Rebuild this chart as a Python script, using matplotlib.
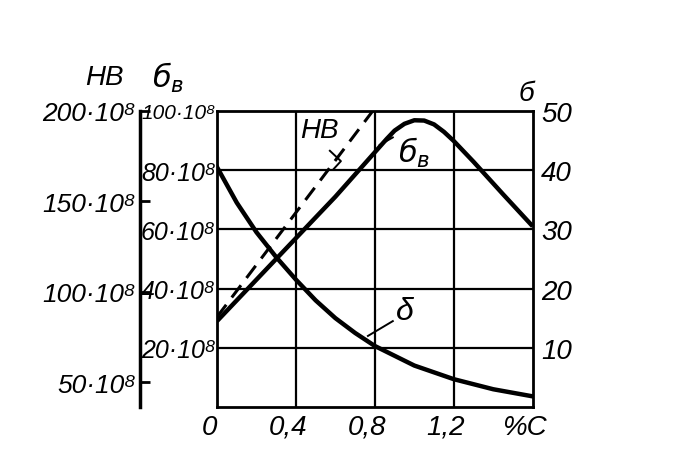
import matplotlib
matplotlib.use("Agg")
import matplotlib.pyplot as plt
from matplotlib.transforms import ScaledTranslation

FONT = ['Liberation Sans', 'DejaVu Sans']
plt.rcParams['font.family'] = FONT
plt.rcParams['font.style'] = 'italic'
plt.rcParams['mathtext.fontset'] = 'dejavusans'

# %C
carbon = [0.0, 0.2, 0.4, 0.6, 0.8, 0.86, 0.9, 0.95, 1.0, 1.05, 1.1, 1.15, 1.2, 1.3, 1.45, 1.6]
# tensile strength sigma_b, x10^8
sigma_b = [29, 43, 57, 71, 86, 90.5, 93.3, 95.6, 96.8, 96.7, 95.4, 92.9, 89.8, 82.8, 71.8, 61]

carbon_d = [0.0, 0.1, 0.2, 0.3, 0.4, 0.5, 0.6, 0.7, 0.8, 1.0, 1.2, 1.4, 1.6]
# elongation delta, %
delta = [40.5, 34.5, 29.5, 25.3, 21.5, 18.0, 15.0, 12.5, 10.3, 7.0, 4.7, 3.0, 1.8]

# hardness HB, x10^8 (dashed)
carbon_hb = [0.0, 0.79]
hb = [86, 200]

x_ticks = [0, 0.4, 0.8, 1.2, 1.6]
x_labels = ['0', '0,4', '0,8', '1,2', '%C']
sb_ticks = [20, 40, 60, 80, 100]
sb_labels = ['20·10⁸', '40·10⁸', '60·10⁸', '80·10⁸', '100·10⁸']
d_ticks = [10, 20, 30, 40, 50]
hb_ticks = [50, 100, 150, 200]
hb_labels = ['50·10⁸', '100·10⁸', '150·10⁸', '200·10⁸']

fig = plt.figure(figsize=(7, 4.6), dpi=100)
ax = fig.add_axes([0.31, 0.113, 0.451, 0.644])
ax.set_xlim(0, 1.6)
ax.set_ylim(0, 100)
for s in ax.spines.values():
    s.set_linewidth(2.0)

# grid
for xv in x_ticks[1:-1]:
    ax.axvline(xv, color='black', lw=1.6, zorder=1)
for yv in sb_ticks[:-1]:
    ax.axhline(yv, color='black', lw=1.6, zorder=1)

ax.set_xticks(x_ticks)
ax.set_xticklabels(x_labels, fontsize=20)
ax.tick_params(axis='x', length=0, pad=5)
off = ScaledTranslation(-8 / 100, 0, fig.dpi_scale_trans)
for lbl in ax.get_xticklabels():
    lbl.set_transform(lbl.get_transform() + off)

ax.set_yticks(sb_ticks)
ax.set_yticklabels(sb_labels, fontsize=18)
ax.tick_params(axis='y', length=0, pad=1)
ax.get_yticklabels()[-1].set_fontsize(15)

ax.plot(carbon, sigma_b, color='black', lw=3.2, solid_capstyle='butt', zorder=3)

# right axis: delta
axd = ax.twinx()
axd.set_ylim(0, 50)
axd.set_yticks(d_ticks)
axd.set_yticklabels([str(v) for v in d_ticks], fontsize=20)
axd.tick_params(axis='y', length=0, pad=6)
for s in axd.spines.values():
    s.set_visible(False)
axd.plot(carbon_d, delta, color='black', lw=3.2, zorder=3)

# HB axis on the far left
axh = ax.twinx()
axh.set_ylim(36.2, 200)
axh.yaxis.set_ticks_position('left')
axh.yaxis.set_label_position('left')
for k in ['right', 'top', 'bottom']:
    axh.spines[k].set_visible(False)
axh.spines['left'].set_position(('axes', -0.244))
axh.spines['left'].set_linewidth(2.5)
axh.set_yticks(hb_ticks)
axh.set_yticklabels(hb_labels, fontsize=19)
axh.tick_params(axis='y', direction='in', length=7, width=2, pad=3)
axh.plot(carbon_hb, hb, color='black', lw=2.2, dashes=(5, 3), zorder=3)

# leaders and curve labels (sigma_b scale)
ax.plot([0.572, 0.628, 0.592], [86.5, 83.0, 80.4], color='black', lw=1.4)
ax.text(0.52, 93.5, 'HB', fontsize=20, ha='center', va='center')
ax.plot([0.825, 0.891], [88.5, 91.0], color='black', lw=1.4)
ax.text(1.0, 86.0, r'$б_в$', fontsize=22, ha='center', va='center')
ax.plot([0.765, 0.891], [24.0, 29.0], color='black', lw=1.4)
ax.text(0.95, 32.5, 'δ', fontsize=23, ha='center', va='center')

# axis titles
ax.text(-0.57, 111.5, 'HB', fontsize=20, ha='center', va='center')
ax.text(-0.25, 111.5, r'$б_в$', fontsize=22, ha='center', va='center')
ax.text(1.57, 106, 'б', fontsize=20, ha='center', va='center')

fig.savefig('out.png', dpi=100)
